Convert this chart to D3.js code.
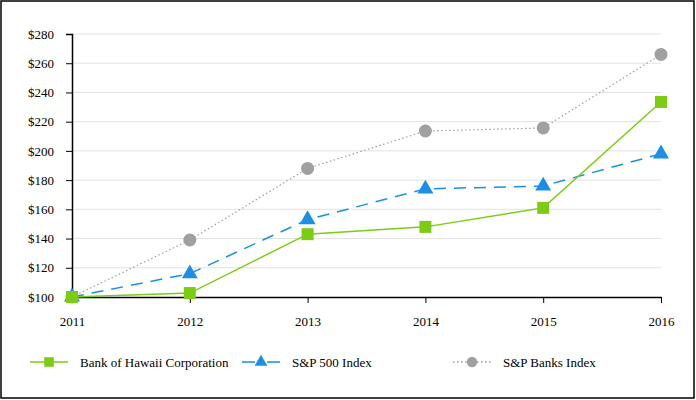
<!DOCTYPE html>
<html>
<head>
<meta charset="utf-8">
<script src="https://cdn.jsdelivr.net/npm/d3@7"></script>
<style>
  body { margin: 0; background: #fff; }
  svg { display: block; }
  svg text { font-family: "Liberation Serif", "Times New Roman", serif; font-size: 13px; fill: #000; }
</style>
</head>
<body>
<svg id="chart" width="696" height="400"></svg>
<script>
// years along the bottom and the three total return series
const years = [2011, 2012, 2013, 2014, 2015, 2016];
const bankOfHawaii = [100, 102.7, 143, 148, 161, 233.5];
const sp500 = [100, 116, 153, 174, 176, 198];
const spBanks = [100, 139, 188, 213.6, 215.7, 266];
const yTicks = [100, 120, 140, 160, 180, 200, 220, 240, 260, 280];

const series = [
  { name: 'Bank of Hawaii Corporation', values: bankOfHawaii, colour: '#7dcc14', dash: null, marker: 'square' },
  { name: 'S&P 500 Index', values: sp500, colour: '#1a8fe6', dash: '12,8', marker: 'triangle' },
  { name: 'S&P Banks Index', values: spBanks, colour: '#a0a0a0', dash: '1.5,2.5', marker: 'circle' }
];

const svg = d3.select('#chart');

// outer frame
svg.append('rect')
  .attr('x', 1).attr('y', 1)
  .attr('width', 693).attr('height', 397)
  .attr('fill', 'none')
  .attr('stroke', '#000')
  .attr('stroke-width', 1.5);

const x = d3.scalePoint().domain(years).range([72, 661]);
const y = d3.scaleLinear().domain([100, 280]).range([297, 34]);

// gridlines
svg.append('g')
  .selectAll('line')
  .data(yTicks.slice(1))
  .join('line')
  .attr('x1', 72).attr('x2', 661)
  .attr('y1', d => y(d)).attr('y2', d => y(d))
  .attr('stroke', '#e2e2e2')
  .attr('stroke-width', 1);

// y axis
const yAxis = svg.append('g')
  .attr('transform', 'translate(72,0)')
  .call(d3.axisLeft(y).tickValues(yTicks).tickSize(6).tickPadding(12).tickFormat(d => '$' + d));
yAxis.select('.domain').attr('stroke-width', 1.5);

// x axis
const xAxis = svg.append('g')
  .attr('transform', 'translate(0,297)')
  .call(d3.axisBottom(x).tickSize(6).tickPadding(14).tickSizeOuter(0));
xAxis.select('.domain').attr('stroke-width', 1.5);

const line = d3.line()
  .x((d, i) => x(years[i]))
  .y(d => y(d));

function drawMarker(g, type, cx, cy, colour, k) {
  if (type === 'square') {
    g.append('rect')
      .attr('x', cx - 6 * k).attr('y', cy - 6 * k)
      .attr('width', 12 * k).attr('height', 12 * k)
      .attr('fill', colour);
  } else if (type === 'triangle') {
    g.append('path')
      .attr('d', d3.symbol().type(d3.symbolTriangle).size(110 * k * k)())
      .attr('transform', `translate(${cx},${cy})`)
      .attr('fill', colour);
  } else {
    g.append('circle')
      .attr('cx', cx).attr('cy', cy).attr('r', 6.5 * k)
      .attr('fill', colour);
  }
}

// draw banks first so bank of hawaii sits on top
series.slice().reverse().forEach(s => {
  const g = svg.append('g');
  g.append('path')
    .datum(s.values)
    .attr('fill', 'none')
    .attr('stroke', s.colour)
    .attr('stroke-width', s.marker === 'circle' ? 1.2 : 1.5)
    .attr('stroke-dasharray', s.dash)
    .attr('d', line);
  s.values.forEach((v, i) => drawMarker(g, s.marker, x(years[i]), y(v), s.colour, 1));
});

// legend
const legendX = [30, 242, 453];
const legend = svg.append('g');
series.forEach((s, i) => {
  const lx = legendX[i];
  const ly = 362;
  legend.append('line')
    .attr('x1', lx).attr('x2', lx + 38)
    .attr('y1', ly).attr('y2', ly)
    .attr('stroke', s.colour)
    .attr('stroke-width', 1.5)
    .attr('stroke-dasharray', s.marker === 'triangle' ? '13,12' : s.dash);
  drawMarker(legend, s.marker, lx + 19, ly, s.colour, 0.8);
  legend.append('text')
    .attr('x', lx + 50).attr('y', ly + 4.5)
    .text(s.name);
});
</script>
</body>
</html>
